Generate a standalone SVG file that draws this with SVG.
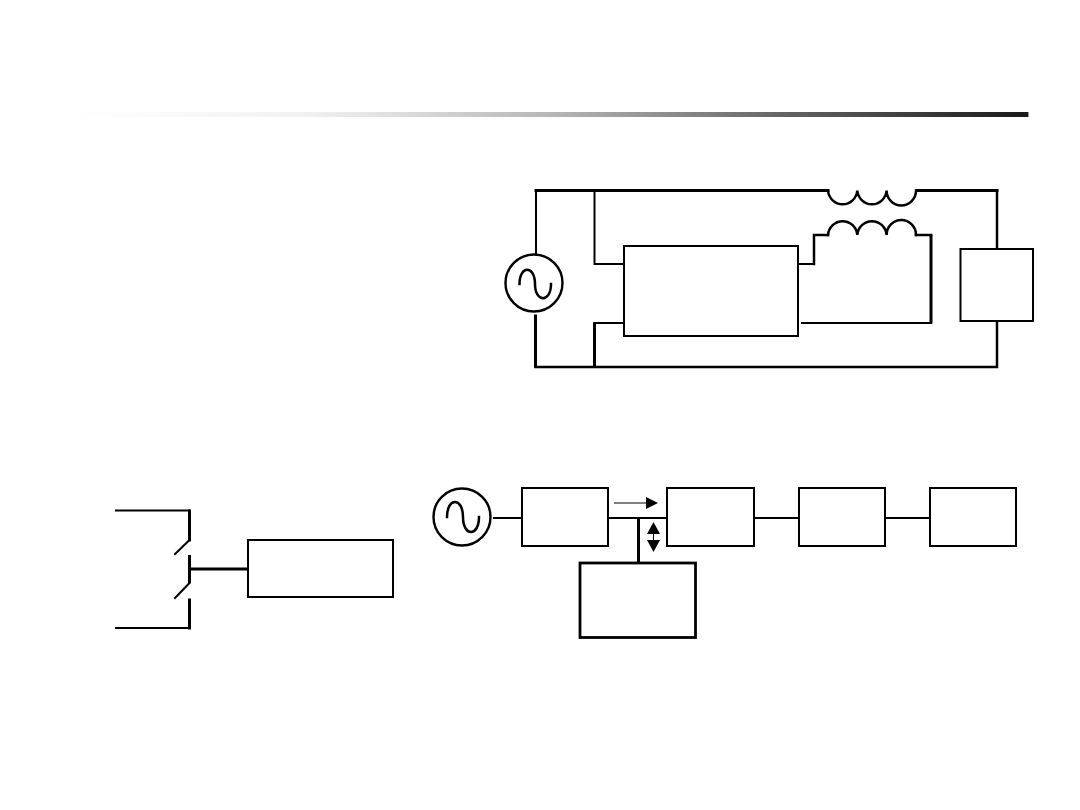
<svg xmlns="http://www.w3.org/2000/svg" width="1080" height="810" viewBox="0 0 1080 810">
  <style>
    .w { fill: none; stroke: #000; stroke-width: 2; stroke-linecap: square; stroke-linejoin: miter; }
    .m { fill: none; stroke: #000; stroke-width: 2.500; stroke-linecap: square; stroke-linejoin: miter; }
    .h { fill: none; stroke: #000; stroke-width: 3; stroke-linecap: square; stroke-linejoin: miter; }
    .t { fill: none; stroke: #000; stroke-width: 3; stroke-linecap: butt; }
    .b { fill: #fff; stroke: #000; stroke-width: 2; }
    .bt { fill: #fff; stroke: #000; stroke-width: 2.800; }
    .s { fill: #fff; stroke: #000; stroke-width: 2.400; }
    .a { fill: #000; }
    .thin { fill: none; stroke: #000; stroke-width: 1; }
  </style>
  <defs>
    <linearGradient id="rule" x1="0" x2="1" y1="0" y2="0">
      <stop offset="0" stop-color="#fff"/>
      <stop offset="0.24" stop-color="#f2f2f2"/>
      <stop offset="0.324" stop-color="#e2e2e2"/>
      <stop offset="0.511" stop-color="#b4b4b4"/>
      <stop offset="0.756" stop-color="#606060"/>
      <stop offset="1" stop-color="#1a1a1a"/>
    </linearGradient>
  </defs>

  <rect id="header-rule" x="70" y="112" width="958" height="5" fill="url(#rule)"/>
  <rect id="header-rule-end" x="1028" y="112" width="1" height="5" fill="#999"/>

  <g id="connectors">
    <!-- upper circuit wiring -->
    <path class="w" d="M536 254V191"/>
    <path class="h" d="M536 190.500H828"/>
    <path class="h" d="M917 190.500H997"/>
    <path class="m" d="M997 190.500V249"/>
    <path class="w" d="M594.500 190V264H624"/>
    <path class="h" d="M535.500 316V366"/>
    <path class="m" d="M535.500 367H997V323"/>
    <path class="h" d="M594.500 366V324"/>
    <path class="w" d="M594.500 323H624"/>
    <path class="w" d="M798 264H814"/>
    <path class="m" d="M814 264V235H828"/>
    <path class="m" d="M916 235H931"/>
    <path class="h" d="M931 236V322"/>
    <path class="w" d="M931 323H802"/>
    <path class="m" d="M828 190.500A14.700 15 0 0 0 857.300 190.500A14.700 15 0 0 0 886.600 190.500A14.700 15 0 0 0 916 190.500"/>
    <path class="m" d="M828 235A14.700 15 0 0 1 857.300 235A14.700 15 0 0 1 886.600 235A14.700 15 0 0 1 916 235"/>
    <!-- lower chain wiring -->
    <path class="w" d="M494 518H522"/>
    <path class="w" d="M608 518H667"/>
    <path class="w" d="M754 518H799"/>
    <path class="w" d="M885 518H930"/>
    <path class="t" d="M638.500 518V563"/>
    <!-- power flow arrows -->
    <path class="thin" d="M614 503H648"/>
    <polygon class="a" points="646,497 658,503 646,509"/>
    <polygon class="a" points="653.500,522 660,534 647,534"/>
    <path class="thin" d="M653.500 534V540"/>
    <polygon class="a" points="647,540 660,540 653.500,552"/>
    <!-- switch pair wiring -->
    <path class="w" d="M116 510.500H189"/>
    <path class="h" d="M189.500 511V540"/>
    <path class="w" d="M189.500 540L175 554"/>
    <path class="t" d="M189.500 555V583"/>
    <path class="w" d="M189.500 583L175 598"/>
    <path class="w" d="M116 628H189"/>
    <path class="h" d="M189.500 628V600"/>
    <path class="t" d="M190 569H248"/>
  </g>

  <g id="source-upper">
    <circle class="s" cx="534" cy="283" r="28.500"/>
    <path class="m" d="M519.500 284C519.500 265 535 265 535 284C535 303 551 303 551 284"/>
  </g>
  <g id="converter-upper"><rect class="b" x="624" y="246" width="174" height="90"/></g>
  <g id="load-upper"><rect class="b" x="960.500" y="249" width="72.500" height="72"/></g>

  <g id="source-lower">
    <circle class="s" cx="462" cy="517" r="28.500"/>
    <path class="m" d="M447 517C447 497 463 497 463 517C463 537 479 537 479 517"/>
  </g>
  <g id="block-1"><rect class="b" x="522" y="488" width="86" height="58"/></g>
  <g id="block-2"><rect class="b" x="667" y="488" width="87" height="58"/></g>
  <g id="block-3"><rect class="b" x="799" y="488" width="86" height="58"/></g>
  <g id="block-4"><rect class="b" x="930" y="488" width="86" height="58"/></g>
  <g id="block-storage"><rect class="bt" x="580" y="563" width="115.500" height="74.500"/></g>
  <g id="block-switched"><rect class="b" x="248" y="540" width="145" height="57"/></g>
</svg>
